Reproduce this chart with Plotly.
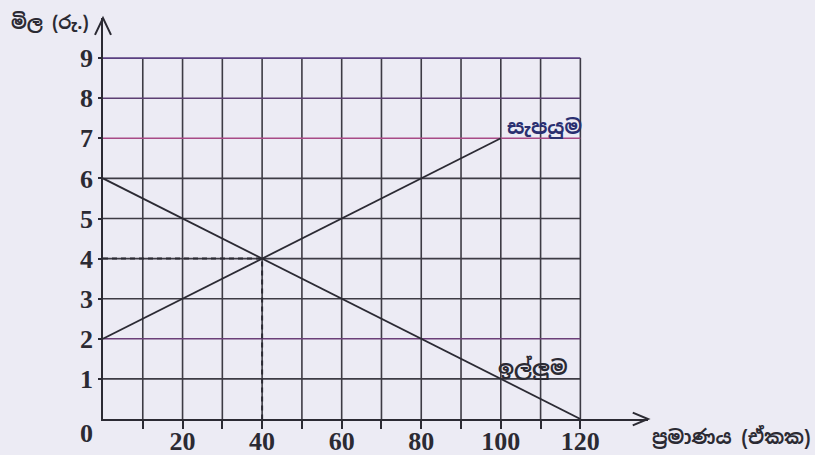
import plotly.graph_objects as go

# ── data ───────────────────────────────────────────────────────────────────────
supply_qty = [0, 100]
supply_price = [2, 7]
demand_qty = [0, 120]
demand_price = [6, 0]
equilibrium_qty = 40
equilibrium_price = 4

grid_x = [10, 20, 30, 40, 50, 60, 70, 80, 90, 100, 110, 120]
grid_y = [1, 2, 3, 4, 5, 6, 7, 8, 9]
x_label_vals = [20, 40, 60, 80, 100, 120]
x_label_text = ["20", "40", "60", "80", "100", "120"]
y_tick_text = ["1", "2", "3", "4", "5", "6", "7", "8", "9"]

supply_label = "සැපයුම"
demand_label = "ඉල්ලුම"
y_title = "මිල (රු.)"
x_title = "ප්‍රමාණය (ඒකක)"

# ── styling ────────────────────────────────────────────────────────────────────
BG = "#ecebf4"
INK = "#2b2a33"
GRID = "#3d3b44"
SERIF = "Liberation Serif, DejaVu Serif, serif"
SINHALA = "Noto Sans Sinhala, Noto Serif Sinhala, Iskoola Pota, sans-serif"
row_colors = {2: "#6b3f78", 7: "#a84a86", 8: "#5c3f72", 9: "#5a3f80"}

x_max, y_max = 120, 9
X_RANGE = [0, 137]

fig = go.Figure()

# vertical grid lines
for gx in grid_x:
    fig.add_trace(go.Scatter(
        x=[gx, gx], y=[0, y_max], mode="lines",
        line=dict(color=GRID, width=1.6),
        showlegend=False, hoverinfo="skip",
    ))

# horizontal grid lines
for gy in grid_y:
    fig.add_trace(go.Scatter(
        x=[0, x_max], y=[gy, gy], mode="lines",
        line=dict(color=row_colors.get(gy, GRID), width=1.6),
        showlegend=False, hoverinfo="skip",
    ))

# dashed guides to the equilibrium point
fig.add_trace(go.Scatter(
    x=[0, equilibrium_qty, equilibrium_qty],
    y=[equilibrium_price, equilibrium_price, 0],
    mode="lines", line=dict(color=INK, width=2, dash="5px,4px"),
    showlegend=False, hoverinfo="skip",
))

# supply and demand (on the overlay axis that carries the tick labels)
fig.add_trace(go.Scatter(
    x=supply_qty, y=supply_price, mode="lines", xaxis="x2",
    line=dict(color=INK, width=1.8), name=supply_label, showlegend=False,
))
fig.add_trace(go.Scatter(
    x=demand_qty, y=demand_price, mode="lines", xaxis="x2",
    line=dict(color=INK, width=1.8), name=demand_label, showlegend=False,
))

# arrow heads on the axes (paper coords so they are not clipped)
fig.add_shape(type="path", xref="paper", yref="paper",
              path="M -0.0147,0.958 L 0,1 L 0.0147,0.958",
              line=dict(color=INK, width=2))
fig.add_shape(type="path", xref="paper", yref="paper",
              path="M 0.972,0.016 L 1,0 L 0.972,-0.016",
              line=dict(color=INK, width=2))

# labels
fig.add_annotation(x=111, y=7.28, text=supply_label,
                   showarrow=False,
                   font=dict(family=SINHALA, size=20, color="#2a2f70", weight="bold"))
fig.add_annotation(x=108, y=1.27, text=demand_label,
                   showarrow=False,
                   font=dict(family=SINHALA, size=20, color=INK, weight="bold"))
fig.add_annotation(xref="paper", yref="paper", x=-0.172, y=0.99,
                   xanchor="left", yanchor="middle",
                   text=y_title, showarrow=False,
                   font=dict(family=SINHALA, size=18, color=INK, weight="bold"))
fig.add_annotation(xref="paper", yref="paper", x=1.0, y=-0.045,
                   xanchor="left", yanchor="middle",
                   xshift=2, text=x_title, showarrow=False,
                   font=dict(family=SINHALA, size=19, color=INK, weight="bold"))
fig.add_annotation(xref="paper", yref="paper", x=0, y=-0.035, xanchor="right",
                   yanchor="middle", xshift=-8,
                   text="0", showarrow=False,
                   font=dict(family=SERIF, size=26, color=INK, weight="bold"))

fig.update_layout(
    width=815, height=455,
    margin=dict(l=103, r=167, t=18, b=36),
    paper_bgcolor=BG, plot_bgcolor=BG,
    xaxis=dict(
        range=X_RANGE, showgrid=False, zeroline=False, automargin=False,
        showline=True, linecolor=INK, linewidth=1.8,
        tickvals=grid_x, showticklabels=False,
        ticks="outside", ticklen=8, tickwidth=1.6, tickcolor=INK,
    ),
    xaxis2=dict(
        range=X_RANGE, overlaying="x", anchor="y", side="bottom",
        showgrid=False, zeroline=False, automargin=False, showline=False,
        tickvals=x_label_vals, ticktext=x_label_text, ticks="",
        ticklabelstandoff=4,
        tickfont=dict(family=SERIF, size=26, color=INK, weight="bold"),
    ),
    yaxis=dict(
        range=[0, 10], showgrid=False, zeroline=False, automargin=False,
        showline=True, linecolor=INK, linewidth=1.8,
        tickvals=grid_y, ticktext=y_tick_text,
        ticks="outside", ticklen=3, tickwidth=1.6, tickcolor=INK,
        tickfont=dict(family=SERIF, size=26, color=INK, weight="bold"),
    ),
)

fig.write_html(
    "out.html",
    config={"displayModeBar": False},
    post_script="document.body.style.margin='0';document.body.style.overflow='hidden';",
)
